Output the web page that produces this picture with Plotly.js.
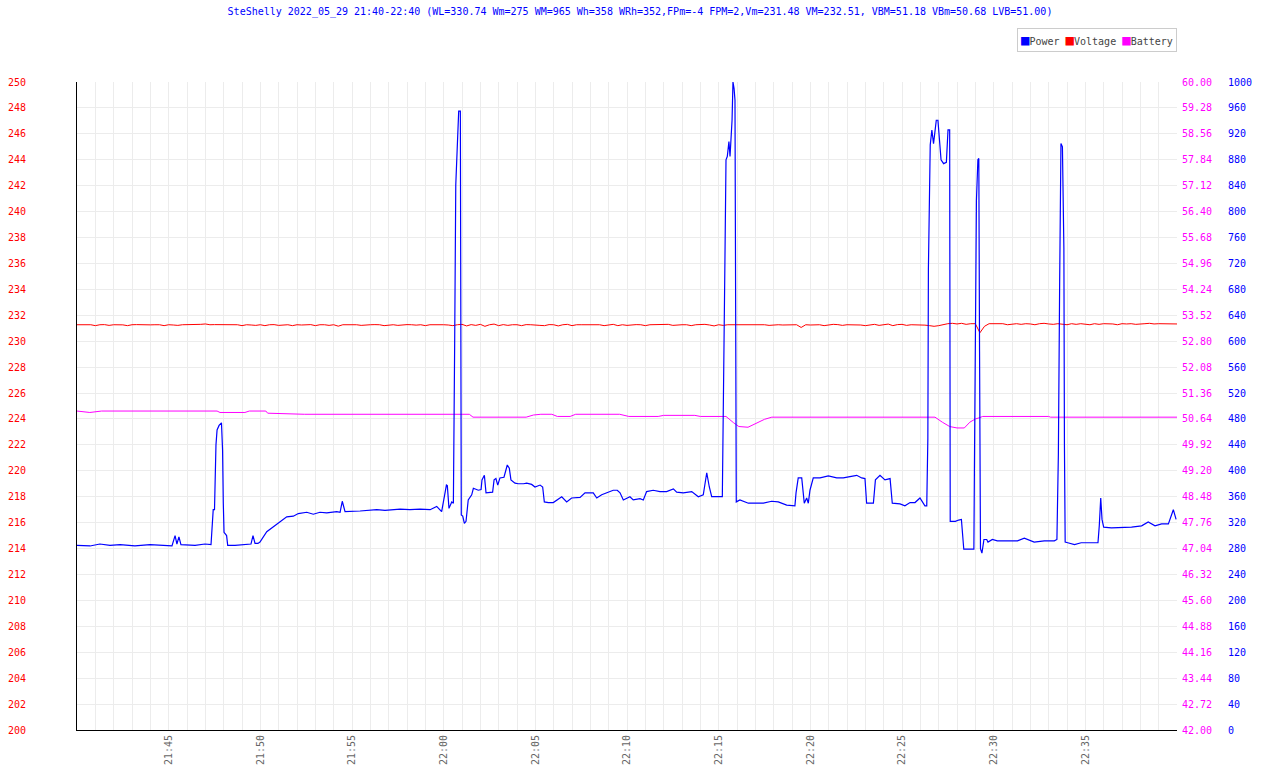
<!DOCTYPE html>
<html><head><meta charset="utf-8">
<script src="https://cdn.plot.ly/plotly-3.0.1.min.js"></script>
<style>html,body{margin:0;padding:0;background:#fff}</style>
</head><body><div id="chart" style="width:1280px;height:768px"></div>
<script>
const chartTitle = "SteShelly 2022_05_29 21:40-22:40 (WL=330.74 Wm=275 WM=965 Wh=358 WRh=352,FPm=-4 FPM=2,Vm=231.48 VM=232.51, VBM=51.18 VBm=50.68 LVB=51.00)";
const seriesNames = ["Power", "Voltage", "Battery"];
const day = "2022-05-29";
const startHour = 21, startMinute = 40;
// x tick labels and their minute offsets after 21:40
const xTickLabels = ["21:45","21:50","21:55","22:00","22:05","22:10","22:15","22:20","22:25","22:30","22:35"];
const xTickMinutes = [5,10,15,20,25,30,35,40,45,50,55];

// Power (W): minutes after 21:40 and watts
const powerMinutes = [
 0,0.71,1.25,1.80,2.35,3.16,3.98,4.80,5.18,5.35,
 5.45,5.56,5.67,6.44,6.98,7.31,7.43,7.50,7.58,7.64,
 7.75,7.88,7.94,7.98,8.02,8.16,8.22,8.62,9.16,9.49,
 9.60,9.71,9.87,9.98,10.35,10.71,11.07,11.44,11.80,12.07,
 12.53,12.89,13.25,13.62,14.17,14.35,14.47,14.62,15.44,15.98,
 16.35,16.80,17.25,17.62,18.16,18.71,19.26,19.62,19.89,20.07,
 20.15,20.20,20.29,20.44,20.53,20.60,20.66,20.74,20.82,20.91,
 20.95,20.96,21.04,21.13,21.22,21.27,21.34,21.53,21.62,21.89,
 22.04,22.09,22.22,22.31,22.44,22.67,22.75,22.85,22.95,23.07,
 23.29,23.47,23.58,23.67,23.89,24.07,24.35,24.53,24.80,24.98,
 25.26,25.40,25.49,25.71,25.98,26.44,26.71,26.98,27.44,27.71,
 28.16,28.35,28.62,28.89,29.25,29.47,29.62,29.80,30.16,30.34,
 30.71,30.89,31.07,31.43,31.80,32.16,32.53,32.71,33.07,33.53,
 33.89,34.16,34.35,34.49,34.62,34.98,35.20,35.35,35.40,35.47,
 35.56,35.62,35.73,35.78,35.84,35.89,35.93,35.96,36.16,36.62,
 37.07,37.44,37.89,38.25,38.71,39.16,39.22,39.34,39.53,39.67,
 39.80,39.89,39.98,40.16,40.53,40.98,41.44,41.80,42.16,42.53,
 42.80,42.98,43.07,43.44,43.55,43.80,44.07,44.35,44.47,44.89,
 45.16,45.44,45.71,45.98,46.25,46.35,46.41,46.44,46.54,46.63,
 46.72,46.81,46.87,46.96,47.05,47.13,47.27,47.42,47.51,47.60,
 47.63,47.91,48.09,48.24,48.37,48.74,48.92,48.95,49.06,49.14,
 49.19,49.23,49.28,49.36,49.47,49.62,49.69,49.93,50.20,50.75,
 51.30,51.67,52.21,52.76,53.31,53.45,53.53,53.60,53.67,53.75,
 53.83,53.86,53.90,54.04,54.41,54.77,55.14,55.69,55.76,55.84,
 55.91,56.00,56.42,56.97,57.52,58.07,58.43,58.80,59.16,59.53,
 59.67,59.80,59.95
];
const powerWatts = [
 285,284,287,285,286,284,286,285,284,300,
 287,298,286,285,287,286,340,340,440,463,
 470,474,432,350,305,300,285,285,286,287,
 300,288,288,290,306,314,321,329,330,334,
 336,333,336,335,337,336,353,337,338,339,
 340,339,340,341,340,341,340,345,337,363,
 378,377,342,352,350,597,841,898,955,955,
 643,332,330,319,322,337,355,363,373,370,
 371,386,393,366,366,367,386,388,378,389,
 390,409,404,386,381,380,380,381,379,375,
 378,375,352,351,351,360,352,358,359,366,
 366,358,363,366,370,370,366,355,360,355,
 357,355,368,370,368,368,372,367,366,368,
 360,363,397,375,360,360,360,746,880,885,
 908,885,941,1000,990,972,659,352,355,350,
 350,350,353,352,347,346,366,389,389,350,
 358,350,370,389,389,392,389,389,391,393,
 389,388,350,350,386,393,386,388,350,349,
 346,351,351,358,346,346,450,711,903,926,
 905,926,941,941,915,880,874,876,926,926,
 322,322,324,325,279,279,279,403,817,880,
 882,584,280,273,294,294,290,294,292,292,
 292,296,290,292,292,294,426,693,905,900,
 744,441,290,289,286,289,289,289,315,358,
 325,313,312,312,313,315,321,315,318,318,
 330,340,325
];

// Voltage (V): one sample every 15 s from 21:40:00
const voltageStepSeconds = 15;
const voltageV = [
 231.27,231.28,231.26,231.27,231.20,231.27,231.28,231.22,231.27,231.27,231.26,231.20,231.27,231.28,231.27,231.22,231.26,231.27,231.27,231.20,
 231.27,231.25,231.22,231.27,231.28,231.24,231.27,231.30,231.33,231.27,231.28,231.27,231.27,231.28,231.27,231.27,231.20,231.27,231.25,231.22,
 231.27,231.20,231.27,231.28,231.22,231.26,231.27,231.20,231.27,231.25,231.27,231.28,231.20,231.27,231.27,231.22,231.27,231.16,231.27,231.28,
 231.27,231.27,231.22,231.27,231.27,231.28,231.27,231.20,231.25,231.27,231.22,231.27,231.28,231.27,231.24,231.27,231.20,231.27,231.28,231.27,
 231.27,231.25,231.20,231.27,231.30,231.18,231.28,231.22,231.30,231.15,231.27,231.32,231.20,231.28,231.22,231.27,231.27,231.20,231.28,231.27,
 231.27,231.22,231.20,231.28,231.27,231.18,231.27,231.30,231.20,231.27,231.27,231.28,231.27,231.27,231.27,231.20,231.27,231.30,231.20,231.27,
 231.22,231.27,231.28,231.27,231.20,231.27,231.27,231.27,231.27,231.30,231.22,231.27,231.27,231.27,231.20,231.27,231.28,231.30,231.25,231.18,
 231.27,231.22,231.27,231.27,231.27,231.27,231.30,231.27,231.27,231.27,231.27,231.22,231.27,231.27,231.25,231.27,231.27,231.27,231.06,231.27,
 231.25,231.28,231.27,231.20,231.27,231.30,231.28,231.22,231.27,231.27,231.30,231.25,231.20,231.27,231.30,231.22,231.27,231.32,231.20,231.28,
 231.30,231.22,231.27,231.27,231.28,231.24,231.20,231.15,231.20,231.30,231.35,231.38,231.33,231.38,231.30,231.35,231.35,230.65,231.15,231.35,
 231.35,231.30,231.35,231.27,231.33,231.35,231.30,231.35,231.33,231.27,231.35,231.38,231.33,231.30,231.35,231.33,231.27,231.35,231.30,231.35,
 231.33,231.27,231.35,231.30,231.35,231.35,231.33,231.27,231.35,231.33,231.35,231.30,231.35,231.35,231.38,231.33,231.35,231.35,231.33,231.35,
 231.33
];

// Battery (V): minutes after 21:40 and volts
const batteryMinutes = [
 0,0.7,1.34,7.64,7.8,9.16,9.4,10.3,10.4,11.1,
 12.4,21.4,21.6,24.5,24.9,25.3,25.9,26.2,26.9,27.2,
 29.6,30.1,31.7,32.0,33.7,34.0,35.4,35.8,36.1,36.6,
 37.0,37.5,37.9,46.8,47.2,47.6,48.0,48.4,48.7,49.0,
 49.2,49.4,53.0,53.1,60
];
const batteryV = [
 50.86,50.82,50.86,50.86,50.82,50.82,50.86,50.86,50.80,50.79,
 50.77,50.77,50.69,50.69,50.75,50.77,50.77,50.71,50.71,50.77,
 50.77,50.71,50.71,50.74,50.74,50.71,50.71,50.54,50.43,50.41,
 50.50,50.63,50.69,50.69,50.55,50.43,50.39,50.39,50.55,50.64,
 50.67,50.71,50.71,50.69,50.69
];

function pad(n){ return String(n).padStart(2,'0'); }
function stamp(min){
  const ms = Math.round(((startHour*60 + startMinute) + min) * 60000);
  const h = Math.floor(ms/3600000), m = Math.floor(ms/60000)%60, s = (ms%60000)/1000;
  return day + ' ' + pad(h) + ':' + pad(m) + ':' + s.toFixed(3).padStart(6,'0');
}

const mono = 'DejaVu Sans Mono, monospace';
const traces = [
  { x: voltageV.map((v,i) => stamp(i*voltageStepSeconds/60)), y: voltageV, name: seriesNames[1],
    type: 'scatter', mode: 'lines', yaxis: 'y', line: {color: '#ff0000', width: 1}, showlegend: false, hoverinfo: 'skip' },
  { x: batteryMinutes.map(stamp), y: batteryV, name: seriesNames[2],
    type: 'scatter', mode: 'lines', yaxis: 'y2', line: {color: '#ff00ff', width: 1}, showlegend: false, hoverinfo: 'skip' },
  { x: powerMinutes.map(stamp), y: powerWatts, name: seriesNames[0],
    type: 'scatter', mode: 'lines', yaxis: 'y3', line: {color: '#0000ff', width: 1.2}, showlegend: false, hoverinfo: 'skip' }
];

const W = 1280, H = 768, L = 77, R = 53, T = 82, B = 38;
const plotW = W - L - R;
const xEnd = 1100 / plotW;

const legendColors = ['#0000ff', '#ff0000', '#ff00ff'];
const legendText = seriesNames.map((n, i) =>
  '<span style="color:' + legendColors[i] + ';font-size:14px">■</span><span style="color:#444">' + n + '</span>').join('&nbsp;');

const layout = {
  width: W, height: H,
  margin: {l: L, r: R, t: T, b: B, pad: 0},
  paper_bgcolor: '#ffffff', plot_bgcolor: '#ffffff',
  showlegend: false,
  title: {text: chartTitle, font: {family: mono, size: 10, color: '#0000ff'},
          xref: 'container', x: 0.5, xanchor: 'center', yref: 'container', y: 1 - 11/768, yanchor: 'middle'},
  xaxis: {
    type: 'date', domain: [0, xEnd],
    range: [stamp(0), stamp(60)],
    tickmode: 'array', tickvals: xTickMinutes.map(stamp), ticktext: xTickLabels, tickangle: -90,
    tickfont: {family: mono, size: 10, color: '#666666'},
    showgrid: true, gridcolor: '#ececec', gridwidth: 1,
    minor: {dtick: 60000, tick0: stamp(0), showgrid: true, gridcolor: '#ececec', gridwidth: 1},
    showline: true, linecolor: '#000000', linewidth: 1, zeroline: false, ticks: '',
    fixedrange: true
  },
  yaxis: {
    range: [200, 250], tick0: 200, dtick: 2,
    tickfont: {family: mono, size: 10, color: '#ff0000'},
    ticklabelstandoff: 48,
    showgrid: true, gridcolor: '#ececec', gridwidth: 1,
    showline: true, linecolor: '#000000', linewidth: 1, zeroline: false, ticks: '',
    fixedrange: true
  },
  yaxis2: {
    overlaying: 'y', side: 'right', anchor: 'x',
    range: [42, 60], tick0: 42, dtick: 0.72, tickformat: '.2f',
    tickfont: {family: mono, size: 10, color: '#ff00ff'},
    ticklabelstandoff: 4,
    showgrid: false, showline: false, zeroline: false, ticks: '', fixedrange: true
  },
  yaxis3: {
    overlaying: 'y', side: 'right', anchor: 'free', position: 1,
    range: [0, 1000], tick0: 0, dtick: 40,
    tickfont: {family: mono, size: 10, color: '#0000ff'},
    ticklabelstandoff: 0,
    showgrid: false, showline: false, zeroline: false, ticks: '', fixedrange: true
  },
  annotations: [{
    text: legendText, xref: 'paper', yref: 'paper',
    x: xEnd, xanchor: 'right', y: 1 + 30/648, yanchor: 'bottom',
    showarrow: false, font: {family: mono, size: 10, color: '#444'},
    bordercolor: '#cccccc', borderwidth: 1, borderpad: 3, bgcolor: '#ffffff'
  }]
};

Plotly.newPlot('chart', traces, layout, {displayModeBar: false, staticPlot: true});
</script>
</body></html>
